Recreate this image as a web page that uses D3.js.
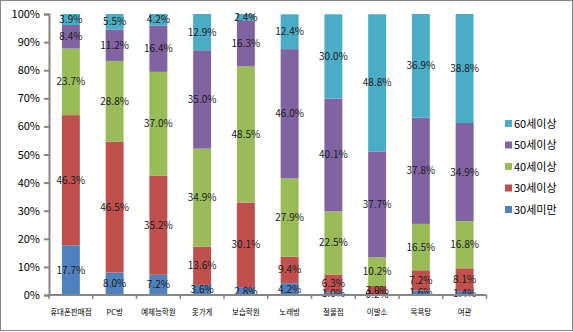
<!DOCTYPE html>
<html><head><meta charset="utf-8">
<script src="https://cdn.jsdelivr.net/npm/d3@7"></script>
<style>body{margin:0;background:#fff}svg{display:block}</style>
</head><body>
<svg id="c" width="573" height="332"></svg>
<script>
const categories = ["휴대폰판매점","PC방","예체능학원","옷가게","보습학원","노래방","철물점","이발소","목욕탕","여관"];
const seriesNames = ["30세미만","30세이상","40세이상","50세이상","60세이상"];
const under30 = [17.7, 8.0, 7.2, 3.6, 2.8, 4.2, 1.0, 0.2, 1.6, 1.4];
const over30  = [46.3, 46.5, 35.2, 13.6, 30.1, 9.4, 6.3, 3.0, 7.2, 8.1];
const over40  = [23.7, 28.8, 37.0, 34.9, 48.5, 27.9, 22.5, 10.2, 16.5, 16.8];
const over50  = [8.4, 11.2, 16.4, 35.0, 16.3, 46.0, 40.1, 37.7, 37.8, 34.9];
const over60  = [3.9, 5.5, 4.2, 12.9, 2.4, 12.4, 30.0, 48.8, 36.9, 38.8];
const yTicks = [0,10,20,30,40,50,60,70,80,90,100];
const colors = ["#4F81BD","#C0504D","#9BBB59","#8064A2","#4BACC6"];

const seriesVals = [under30, over30, over40, over50, over60];
const rows = categories.map((c,i)=>{const r={cat:c}; seriesNames.forEach((s,j)=>r[s]=seriesVals[j][i]); return r;});
const stack = d3.stack().keys(seriesNames)(rows);

const svg = d3.select("#c");
const font = "'Malgun Gothic','Noto Sans CJK KR',sans-serif";
svg.append("rect").attr("x",0.5).attr("y",0.5).attr("width",572).attr("height",330)
  .attr("fill","#fff").attr("stroke","#868686");

const x = d3.scaleBand().domain(categories).range([49,486.5]).paddingInner(0.59).paddingOuter(0.295);
const y = d3.scaleLinear().domain([0,100]).range([295,14]);

const g = svg.append("g");
stack.forEach((layer,j)=>{
  g.selectAll(null).data(layer).enter().append("rect")
    .attr("x",d=>x(d.data.cat)).attr("width",x.bandwidth())
    .attr("y",d=>y(Math.min(d[1],100))).attr("height",d=>y(d[0])-y(Math.min(d[1],100)))
    .attr("fill",colors[j]);
});
stack.forEach((layer,j)=>{
  g.selectAll(null).data(layer).enter().append("text")
    .attr("x",d=>x(d.data.cat)+x.bandwidth()/2)
    .attr("y",d=>y((d[0]+Math.min(d[1],100))/2))
    .attr("dy","0.35em").attr("text-anchor","middle")
    .attr("font-family",font).attr("font-size",10).attr("fill","#1a1a1a")
    .text(d=>(d[1]-d[0]).toFixed(1)+"%");
});

// Y axis
const ya = svg.append("g").attr("transform","translate(49,0)")
  .call(d3.axisLeft(y).tickValues(yTicks).tickFormat(d=>d+"%").tickSize(5).tickPadding(4));
ya.select(".domain").attr("stroke","#868686").attr("stroke-width",2);
ya.selectAll(".tick line").attr("stroke","#868686").attr("stroke-width",2);
ya.selectAll("text").attr("font-family",font).attr("font-size",11).attr("fill","#000");

// X axis
const xa = svg.append("g").attr("transform","translate(0,295)");
xa.append("line").attr("x1",48).attr("x2",486.5).attr("y1",0).attr("y2",0).attr("stroke","#868686").attr("stroke-width",2);
const step = x.step();
xa.selectAll(null).data(d3.range(categories.length+1)).enter().append("line")
  .attr("x1",i=>49+i*step).attr("x2",i=>49+i*step).attr("y1",0).attr("y2",4)
  .attr("stroke","#868686").attr("stroke-width",1.5);
xa.selectAll(null).data(categories).enter().append("text")
  .attr("x",d=>x(d)+x.bandwidth()/2).attr("y",17).attr("dy","0.35em")
  .attr("text-anchor","middle").attr("font-family",font).attr("font-size",7.5).attr("fill","#000")
  .text(d=>d);

// Legend
const leg = svg.append("g");
const legOrder = seriesNames.map((s,j)=>({s,j})).reverse();
leg.selectAll(null).data(legOrder).enter().append("rect")
  .attr("x",505).attr("y",(d,i)=>120+i*21.5).attr("width",7).attr("height",7).attr("fill",d=>colors[d.j]);
leg.selectAll(null).data(legOrder).enter().append("text")
  .attr("x",514).attr("y",(d,i)=>124+i*21.5).attr("dy","0.35em")
  .attr("font-family",font).attr("font-size",11).attr("fill","#000").text(d=>d.s);
</script>
</body></html>
